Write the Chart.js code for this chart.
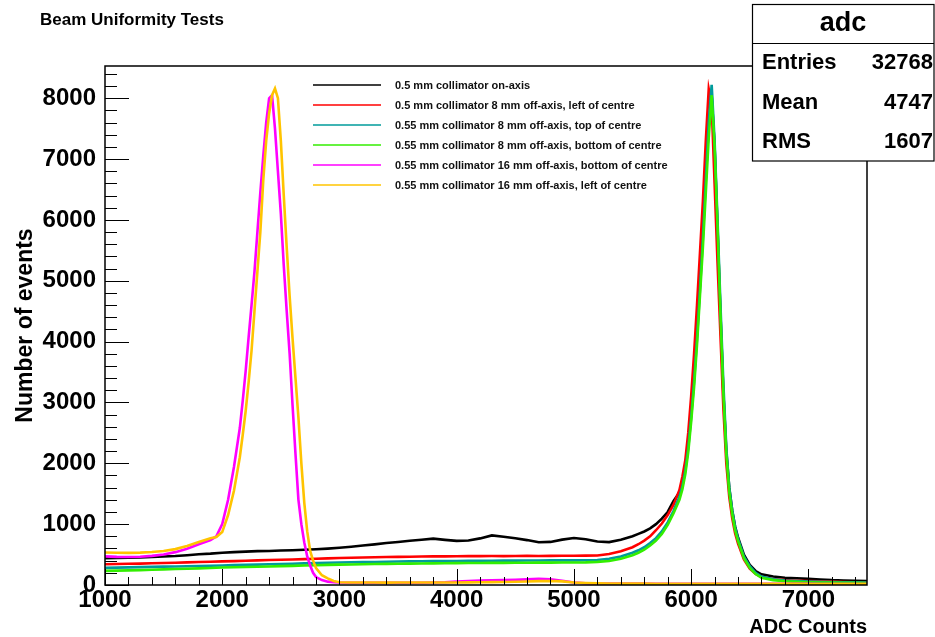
<!DOCTYPE html>
<html>
<head>
<meta charset="utf-8">
<title>Beam Uniformity Tests</title>
<script src="https://cdn.jsdelivr.net/npm/chart.js@4.4.1/dist/chart.umd.min.js"></script>
<style>
  html, body { margin: 0; padding: 0; background: #fff; }
</style>
</head>
<body>
<canvas id="adcChart" width="935" height="637"></canvas>
<script>
// ADC bin positions for the 8 mm / on-axis runs (finer near the 6200 peak)
var xA = [1000, 1100, 1200, 1300, 1400, 1500, 1600, 1700, 1800, 1900,
  2000, 2100, 2200, 2300, 2400, 2500, 2600, 2700, 2800, 2900,
  3000, 3100, 3200, 3300, 3400, 3500, 3600, 3700, 3800, 3900,
  4000, 4100, 4200, 4300, 4400, 4500, 4600, 4700, 4800, 4900,
  5000, 5100, 5200, 5300, 5400, 5500,
  5550, 5600, 5650, 5700, 5750, 5800, 5850, 5900,
  5925, 5950, 5975, 6000, 6025, 6050, 6075, 6100, 6125, 6150,
  6175, 6200, 6225, 6250, 6275, 6300, 6325, 6350, 6375, 6400,
  6450, 6500, 6550, 6600,
  6700, 6800, 6900, 7000, 7100, 7200, 7300, 7400, 7500];

// ADC bin positions for the 16 mm runs (finer near the 2400 peak)
var xB = [1000, 1100, 1200, 1300, 1400, 1500, 1600, 1700, 1800, 1900,
  1950, 2000, 2050, 2100, 2150,
  2175, 2200, 2225, 2250, 2275, 2300, 2325, 2350, 2375, 2400,
  2425, 2450, 2475, 2500, 2525, 2550, 2575, 2600, 2625, 2650,
  2675, 2700, 2725, 2750, 2775, 2800,
  2850, 2900, 2950, 3000,
  3100, 3200, 3300, 3400, 3500, 3600, 3700, 3800, 3900,
  4000, 4100, 4200, 4300, 4400, 4500, 4600, 4700, 4800, 4900,
  5000, 5100, 5200, 5300, 5400, 5500, 5600, 5700, 5800, 5900,
  6000, 6100, 6200, 6300, 6400, 6500, 6600, 6700, 6800, 6900,
  7000, 7100, 7200, 7300, 7400, 7500];

var onAxis = [440, 445, 450, 452, 460, 468, 476, 490, 505, 515,
  530, 540, 548, 556, 560, 566, 572, 580, 588, 598,
  612, 628, 648, 668, 690, 708, 726, 745, 762, 742,
  726, 732, 766, 815, 792, 768, 738, 702, 708, 746,
  772, 752, 716, 705, 742, 800,
  840, 880, 930, 1000, 1090, 1200, 1380, 1520,
  1700, 1950, 2320, 2820, 3420, 4150, 4950, 5800, 6700, 7550,
  8050, 7200, 5850, 4450, 3150, 2200, 1600, 1230, 960, 780,
  500, 330, 230, 175,
  140, 120, 110, 100, 90, 80, 75, 70, 65];

var left8mm = [340, 345, 350, 352, 358, 362, 366, 372, 378, 382,
  388, 392, 398, 404, 410, 414, 420, 426, 432, 438,
  444, 448, 452, 455, 460, 462, 465, 468, 470, 470,
  472, 474, 474, 476, 475, 476, 478, 476, 478, 480,
  480, 482, 486, 508, 555, 620,
  670, 730, 800, 900, 1010, 1150, 1320, 1560,
  1780, 2050, 2500, 3100, 3800, 4600, 5450, 6300, 7300, 8150,
  7900, 6600, 5300, 4100, 2900, 2000, 1450, 1100, 850, 680,
  420, 270, 180, 130,
  95, 80, 70, 64, 60, 55, 50, 46, 42];

var top8mm = [282, 286, 290, 294, 298, 302, 305, 309, 313, 317,
  321, 326, 330, 335, 340, 345, 350, 355, 360, 365,
  370, 373, 376, 379, 382, 385, 388, 390, 392, 394,
  395, 397, 398, 399, 400, 401, 402, 403, 404, 405,
  405, 407, 410, 430, 470, 530,
  570, 620, 690, 770, 880, 1030, 1220, 1450,
  1620, 1880, 2250, 2750, 3350, 4050, 4850, 5700, 6650, 7600,
  8220, 7300, 6000, 4600, 3300, 2250, 1600, 1230, 950, 760,
  470, 310, 200, 140,
  95, 75, 65, 58, 54, 50, 46, 43, 40];

var bottom8mm = [232, 236, 240, 245, 250, 256, 262, 268, 274, 280,
  288, 292, 296, 300, 305, 310, 315, 320, 325, 330,
  335, 338, 341, 344, 347, 350, 352, 354, 356, 358,
  360, 361, 362, 363, 364, 365, 366, 367, 368, 369,
  370, 372, 380, 395, 430, 490,
  530, 580, 650, 730, 840, 990, 1180, 1400,
  1570, 1820, 2180, 2680, 3250, 3950, 4750, 5550, 6450, 7350,
  8050, 7200, 5900, 4450, 3150, 2150, 1530, 1170, 900, 720,
  440, 280, 180, 120,
  80, 62, 52, 46, 42, 40, 38, 36, 34];

var bottom16mm = [470, 462, 460, 464, 478, 500, 540, 595, 670, 740,
  800, 1000, 1400, 1940, 2580,
  3030, 3520, 4070, 4600, 5150, 5800, 6450, 7050, 7600, 8000,
  8050, 7500, 6800, 6100, 5250, 4500, 3800, 2950, 2150, 1400,
  1000, 700, 470, 320, 200, 130,
  80, 55, 45, 40,
  38, 36, 36, 35, 36, 37, 38, 40, 45,
  55, 65, 72, 76, 80, 84, 92, 100, 95, 70,
  40, 30, 25, 24, 23, 22, 22, 21, 20, 20,
  20, 20, 20, 20, 19, 19, 19, 18, 18, 18,
  18, 17, 17, 17, 16, 16];

var left16mm = [535, 530, 528, 532, 542, 560, 590, 640, 705, 770,
  790, 870, 1150, 1550, 2100,
  2470, 2860, 3330, 3850, 4500, 5150, 5800, 6650, 7300, 7750,
  8050, 8160, 8000, 7300, 6400, 5550, 4750, 4050, 3400, 2750,
  2000, 1350, 880, 560, 400, 280,
  160, 110, 65, 45,
  42, 40, 40, 39, 40, 40, 41, 41, 42,
  42, 43, 45, 47, 50, 54, 58, 63, 66, 60,
  42, 32, 26, 24, 23, 22, 22, 21, 21, 20,
  20, 20, 20, 19, 19, 19, 18, 18, 18, 18,
  17, 17, 17, 16, 16, 16];

var seriesLabels = [
  "0.5 mm collimator on-axis",
  "0.5 mm collimator 8 mm off-axis, left of centre",
  "0.55 mm collimator 8 mm off-axis, top of centre",
  "0.55 mm collimator 8 mm off-axis, bottom of centre",
  "0.55 mm collimator 16 mm off-axis, bottom of centre",
  "0.55 mm collimator 16 mm off-axis, left of centre"
];
var seriesColors = ["#000000", "#ff0000", "#009b9b", "#33ee00", "#ff00ff", "#ffc400"];

var xTickValues = [1000, 2000, 3000, 4000, 5000, 6000, 7000];
var yTickValues = [0, 1000, 2000, 3000, 4000, 5000, 6000, 7000, 8000];

var statsTitle = "adc";
var statsNames = ["Entries", "Mean", "RMS"];
var statsValues = ["32768", "4747", "1607"];

var FONT = "'Liberation Sans', Arial, Helvetica, sans-serif";

function points(xs, ys) {
  return xs.map(function (x, i) { return { x: x, y: ys[i] }; });
}

var allSeries = [
  points(xA, onAxis),
  points(xA, left8mm),
  points(xA, top8mm),
  points(xA, bottom8mm),
  points(xB, bottom16mm),
  points(xB, left16mm)
];

var datasets = allSeries.map(function (pts, i) {
  return {
    label: seriesLabels[i],
    data: pts,
    borderColor: seriesColors[i],
    backgroundColor: seriesColors[i],
    borderWidth: 2.6,
    pointRadius: 0,
    tension: 0,
    fill: false,
    order: allSeries.length - 1 - i //later runs on top
  };
});

//ROOT style frame, inward ticks, legend, stats box and title
var rootDecor = {
  id: "rootDecor",
  afterDatasetsDraw: function (chart) {
    var ctx = chart.ctx;
    var a = chart.chartArea;
    var xs = chart.scales.x;
    var ys = chart.scales.y;
    ctx.save();

    //ticks on the bottom axis
    ctx.strokeStyle = "#000";
    ctx.lineWidth = 1;
    ctx.beginPath();
    for (var v = 1000; v <= 7500; v += 200) {
      var px = Math.round(xs.getPixelForValue(v)) + 0.5;
      var len = v % 1000 === 0 ? 16 : 8;
      ctx.moveTo(px, a.bottom);
      ctx.lineTo(px, a.bottom - len);
    }
    //ticks on the left axis
    for (var w = 0; w <= 8500; w += 200) {
      var py = Math.round(ys.getPixelForValue(w)) + 0.5;
      var len2 = w % 1000 === 0 ? 24 : 12;
      ctx.moveTo(a.left, py);
      ctx.lineTo(a.left + len2, py);
    }
    ctx.stroke();

    //frame
    ctx.lineWidth = 1.5;
    ctx.strokeRect(a.left, a.top, a.right - a.left, a.bottom - a.top);

    //legend
    ctx.font = "bold 11px " + FONT;
    ctx.textBaseline = "middle";
    ctx.textAlign = "left";
    chart.data.datasets.forEach(function (ds, i) {
      var ly = 85 + i * 20;
      ctx.strokeStyle = ds.borderColor;
      ctx.lineWidth = 1.5;
      ctx.beginPath();
      ctx.moveTo(313, ly);
      ctx.lineTo(381, ly);
      ctx.stroke();
      ctx.fillStyle = "#111";
      ctx.fillText(ds.label, 395, ly + 0.5);
    });

    //stats box
    ctx.fillStyle = "#fff";
    ctx.fillRect(752, 4, 182, 157);
    ctx.strokeStyle = "#000";
    ctx.lineWidth = 1.2;
    ctx.strokeRect(752.5, 4.5, 181.5, 156.5);
    ctx.beginPath();
    ctx.moveTo(752, 43.5);
    ctx.lineTo(934, 43.5);
    ctx.stroke();
    ctx.fillStyle = "#000";
    ctx.font = "bold 27px " + FONT;
    ctx.textAlign = "center";
    ctx.fillText(statsTitle, 843, 24);
    ctx.font = "bold 22px " + FONT;
    statsNames.forEach(function (name, i) {
      var ry = 63 + i * 39.5;
      ctx.textAlign = "left";
      ctx.fillText(name, 762, ry);
      ctx.textAlign = "right";
      ctx.fillText(statsValues[i], 933, ry);
    });

    //title
    ctx.textAlign = "left";
    ctx.font = "bold 17px " + FONT;
    ctx.fillText("Beam Uniformity Tests", 40, 20);

    ctx.restore();
  }
};

var tickFont = { family: FONT, size: 24, weight: "bold", lineHeight: 1.2 };

function plainLabel(value) {
  return String(value);
}

var config = {
  type: "line",
  data: { datasets: datasets },
  options: {
    responsive: false,
    devicePixelRatio: 1,
    animation: false,
    layout: { padding: { top: 66, right: 68, left: 0, bottom: 0 } },
    plugins: {
      legend: { display: false },
      tooltip: { enabled: false },
      title: { display: false }
    },
    scales: {
      x: {
        type: "linear",
        min: 1000,
        max: 7500,
        grid: { display: false, drawTicks: false },
        border: { display: false },
        afterFit: function (scale) { scale.height = 52; },
        afterBuildTicks: function (scale) {
          scale.ticks = xTickValues.map(function (v) { return { value: v }; });
        },
        ticks: { font: tickFont, color: "#000", padding: 1, maxRotation: 0, autoSkip: false, callback: plainLabel },
        title: {
          display: true,
          text: "ADC Counts",
          align: "end",
          color: "#000",
          font: { family: FONT, size: 20, weight: "bold", lineHeight: 1 },
          padding: { top: 0, bottom: 0 }
        }
      },
      y: {
        min: 0,
        max: 8530,
        grid: { display: false, drawTicks: false },
        border: { display: false },
        afterFit: function (scale) { scale.width = 105; },
        afterBuildTicks: function (scale) {
          scale.ticks = yTickValues.map(function (v) { return { value: v }; });
        },
        ticks: { font: tickFont, color: "#000", padding: 9, autoSkip: false, callback: plainLabel },
        title: {
          display: true,
          text: "Number of events",
          color: "#000",
          font: { family: FONT, size: 23, weight: "bold", lineHeight: 1 },
          padding: { top: 14, bottom: 0 }
        }
      }
    }
  },
  plugins: [rootDecor]
};

var adcChart = new Chart(document.getElementById("adcChart").getContext("2d"), config);
</script>
</body>
</html>
